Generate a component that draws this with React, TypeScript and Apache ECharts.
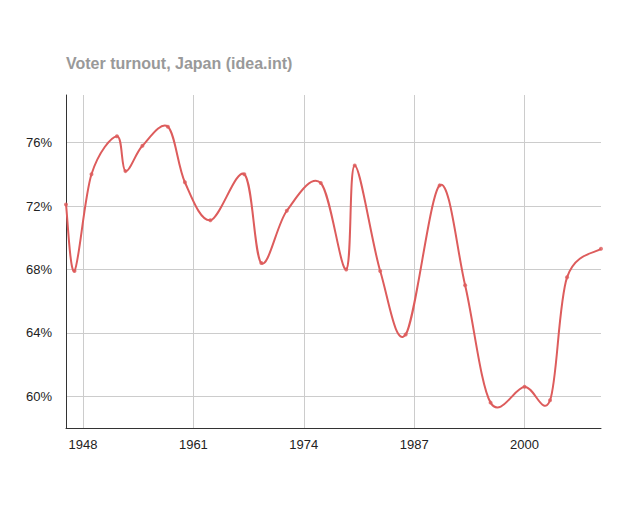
import React, { useEffect, useRef } from "react";
import * as echarts from "echarts";

const years = [1946, 1947, 1949, 1952, 1953, 1955, 1958, 1960, 1963, 1967, 1969, 1972, 1976, 1979, 1980, 1983, 1986, 1990, 1993, 1996, 2000, 2003, 2005, 2009];
const turnout = [72.1, 67.9, 74.0, 76.4, 74.2, 75.8, 77.0, 73.5, 71.1, 74.0, 68.4, 71.7, 73.45, 68.0, 74.55, 67.9, 63.9, 73.3, 67.0, 59.6, 60.6, 59.75, 67.5, 69.3];
const xTicks = [1948, 1961, 1974, 1987, 2000];
const yTicks = [60, 64, 68, 72, 76];

const LINE_COLOR = "#dd5c5c";
const TENSION = 1 / 6;

export default function App() {
  const ref = useRef<HTMLDivElement>(null);
  useEffect(() => {
    if (!ref.current) return;
    const chart = echarts.init(ref.current, null, { renderer: "svg" });
    const data = years.map((y, i) => [y, turnout[i]]);
    chart.setOption({
      animation: false,
      title: {
        text: "Voter turnout, Japan (idea.int)",
        left: 58,
        top: 47,
        padding: 0,
        textStyle: { fontFamily: "Liberation Sans, Arial", fontSize: 16, fontWeight: "bold", color: "#999999" },
      },
      grid: { left: 58, right: 32, top: 87, bottom: 87, containLabel: false },
      xAxis: {
        type: "value",
        min: 1946,
        max: 2009,
        axisLine: { show: true, lineStyle: { color: "#333333", width: 1 } },
        axisTick: { show: false, customValues: xTicks },
        axisLabel: {
          customValues: xTicks,
          formatter: (v: number) => String(v),
          color: "#222222",
          fontFamily: "Liberation Sans, Arial",
          fontSize: 13,
          margin: 10,
        },
        splitLine: { show: true, lineStyle: { color: "#cccccc", width: 1 } },
      },
      yAxis: {
        type: "value",
        min: 58,
        max: 79,
        axisLine: { show: true, lineStyle: { color: "#333333", width: 1 } },
        axisTick: { show: false, customValues: yTicks },
        axisLabel: {
          customValues: yTicks,
          formatter: (v: number) => v + "%",
          color: "#222222",
          fontFamily: "Liberation Sans, Arial",
          fontSize: 13,
          margin: 14,
        },
        splitLine: { show: true, lineStyle: { color: "#cccccc", width: 1 } },
      },
      series: [
        {
          type: "custom",
          data: data,
          encode: { x: 0, y: 1 },
          renderItem: (params: any, api: any) => {
            if (params.dataIndex !== 0) return null;
            const pts = data.map((d) => api.coord(d));
            const n = pts.length;
            let d = `M ${pts[0][0]} ${pts[0][1]}`;
            for (let i = 0; i < n - 1; i++) {
              const p0 = pts[Math.max(i - 1, 0)];
              const p1 = pts[i];
              const p2 = pts[i + 1];
              const p3 = pts[Math.min(i + 2, n - 1)];
              const c1x = p1[0] + (p2[0] - p0[0]) * TENSION;
              const c1y = p1[1] + (p2[1] - p0[1]) * TENSION;
              const c2x = p2[0] - (p3[0] - p1[0]) * TENSION;
              const c2y = p2[1] - (p3[1] - p1[1]) * TENSION;
              d += ` C ${c1x} ${c1y} ${c2x} ${c2y} ${p2[0]} ${p2[1]}`;
            }
            return {
              type: "path",
              shape: { pathData: d },
              style: { stroke: LINE_COLOR, fill: "none", lineWidth: 2 },
            };
          },
        },
        {
          type: "scatter",
          data: data,
          symbol: "circle",
          symbolSize: 4,
          itemStyle: { color: LINE_COLOR },
        },
      ],
    });
    return () => chart.dispose();
  }, []);
  return <div ref={ref} style={{ width: 625, height: 507 }} />;
}
